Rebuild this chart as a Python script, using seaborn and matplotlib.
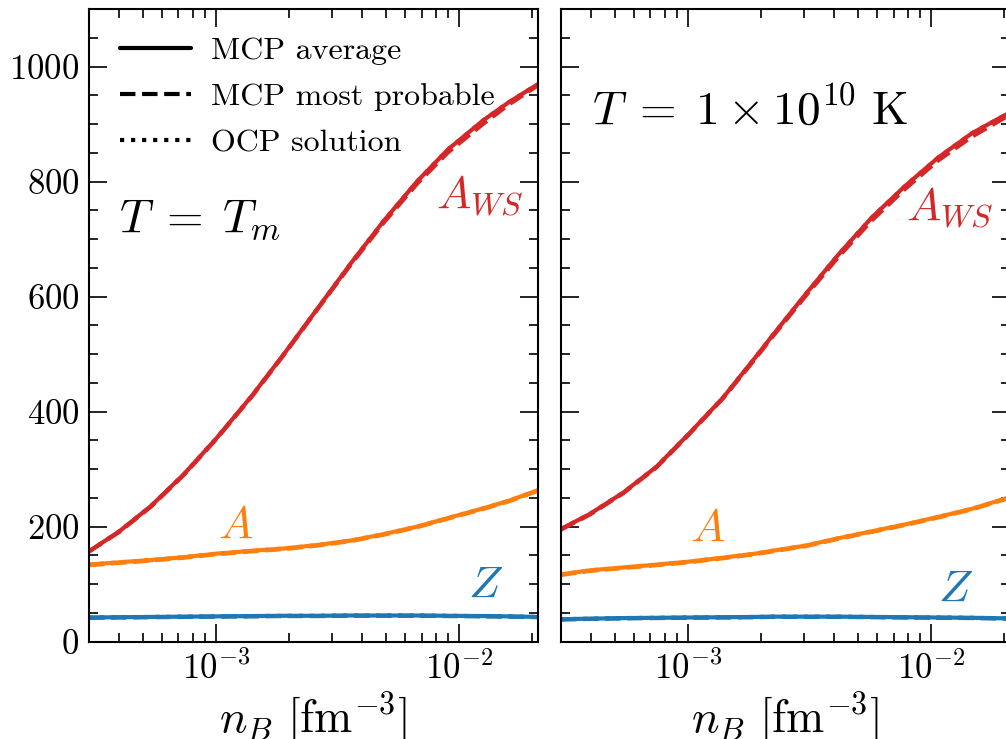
import numpy as np
import pandas as pd
import matplotlib
matplotlib.use("Agg")
import matplotlib.pyplot as plt
from matplotlib.lines import Line2D
import matplotlib.ticker as mticker
import seaborn as sns

# ---------------- data ----------------
nB_left = [3.0e-4, 4.0e-4, 5.4e-4, 7.4e-4, 1.0e-3, 1.4e-3, 1.9e-3, 2.6e-3,
           3.6e-3, 4.9e-3, 6.7e-3, 9.0e-3, 1.26e-2, 1.6e-2, 2.1e-2]
Aws_left_avg = [157, 192, 236, 292, 353, 427, 500, 578, 659, 732, 800, 856, 907, 938, 969]
Aws_left_mp = [157, 191, 235, 291, 352, 426, 499, 577, 657, 729, 796, 851, 901, 934, 967]
Aws_left_ocp = [157, 192, 236, 292, 353, 427, 500, 578, 659, 732, 800, 856, 907, 938, 969]
A_left_avg = [134, 138, 142, 147, 153, 158, 162, 168, 176, 187, 200, 215, 232, 245, 263]
A_left_mp = [133, 137, 141, 146, 152, 157, 161, 167, 175, 186, 199, 214, 231, 244, 262]
A_left_ocp = [134, 138, 142, 147, 153, 158, 162, 168, 176, 187, 200, 215, 232, 245, 263]
Z_left_avg = [42, 42.5, 43, 43.5, 44, 44.5, 45, 45, 45.5, 45.5, 45.5, 45, 44.5, 44, 43]
Z_left_mp = [41.5, 42, 42.5, 43, 43.5, 44, 44.5, 44.5, 45, 45, 45, 44.5, 44, 43.5, 42.5]
Z_left_ocp = [42, 42.5, 43, 43.5, 44, 44.5, 45, 45, 45.5, 45.5, 45.5, 45, 44.5, 44, 43]

nB_right = [3.0e-4, 3.94e-4, 5.4e-4, 7.4e-4, 1.0e-3, 1.39e-3, 1.88e-3, 2.22e-3,
            3.04e-3, 4.17e-3, 5.71e-3, 7.84e-3, 1.07e-2, 1.47e-2, 2.1e-2]
Aws_right_avg = [196, 222, 259, 304, 360, 424, 493, 532, 604, 674, 738, 793, 842, 884, 920]
Aws_right_mp = [195, 221, 258, 303, 359, 423, 491, 530, 601, 670, 733, 788, 837, 878, 916]
Aws_right_ocp = [196, 222, 259, 304, 360, 424, 493, 532, 604, 674, 738, 793, 842, 884, 920]
A_right_avg = [117, 124, 129, 134, 139, 146, 153, 158, 167, 180, 192, 204, 217, 231, 251]
A_right_mp = [116, 123, 128, 133, 138, 145, 152, 157, 166, 179, 191, 203, 216, 230, 250]
A_right_ocp = [117, 124, 129, 134, 139, 146, 153, 158, 167, 180, 192, 204, 217, 231, 251]
Z_right_avg = [39, 40, 41, 41.5, 42, 42.5, 43, 43.5, 43.5, 43.5, 43, 42.5, 42, 41.5, 40.5]
Z_right_mp = [38.5, 39.5, 40.5, 41, 41.5, 42, 42.5, 43, 43, 43, 42.5, 42, 41.5, 41, 40]
Z_right_ocp = [39, 40, 41, 41.5, 42, 42.5, 43, 43.5, 43.5, 43.5, 43, 42.5, 42, 41.5, 40.5]

legend_labels = ["MCP average", "MCP most probable", "OCP solution"]
panel_titles = [r"$T\;=\;T_m$", r"$T\;=\;1\times10^{10}\ \mathrm{K}$"]
xlim = (3.0e-4, 2.1e-2)
ylim = (0, 1100)

# ---------------- style ----------------
sns.set_style("ticks")
plt.rcParams["font.family"] = ["serif"]
plt.rcParams["font.serif"] = ["cmr10", "DejaVu Serif"]
plt.rcParams["mathtext.fontset"] = "cm"
plt.rcParams["axes.formatter.use_mathtext"] = True
plt.rcParams["axes.unicode_minus"] = True
for k in ("text.color", "axes.labelcolor", "xtick.color", "ytick.color", "axes.edgecolor"):
    plt.rcParams[k] = "black"

RED, ORANGE, BLUE = "#d62728", "#ff7f0e", "#1f77b4"
LW = 3.0
STYLES = {"avg": "-", "mp": "--", "ocp": ":"}

fig = plt.figure(figsize=(10.06, 7.39), dpi=100)
ax1 = fig.add_axes([0.0885, 0.1317, 0.4458, 0.856])
ax2 = fig.add_axes([0.5577, 0.1317, 0.4458, 0.856])

panels = [
    (ax1, nB_left, [(Aws_left_avg, Aws_left_mp, Aws_left_ocp, RED),
                    (A_left_avg, A_left_mp, A_left_ocp, ORANGE),
                    (Z_left_avg, Z_left_mp, Z_left_ocp, BLUE)]),
    (ax2, nB_right, [(Aws_right_avg, Aws_right_mp, Aws_right_ocp, RED),
                     (A_right_avg, A_right_mp, A_right_ocp, ORANGE),
                     (Z_right_avg, Z_right_mp, Z_right_ocp, BLUE)]),
]

for ax, xs, series in panels:
    for avg, mp, ocp, col in series:
        for key, ys in (("ocp", ocp), ("mp", mp), ("avg", avg)):
            df = pd.DataFrame({"nB": xs, "val": ys})
            sns.lineplot(data=df, x="nB", y="val", ax=ax, color=col,
                         linestyle=STYLES[key], lw=LW, estimator=None, sort=False)
    ax.set_xscale("log")
    ax.set_xlim(*xlim)
    ax.set_ylim(*ylim)
    ax.yaxis.set_major_locator(mticker.MultipleLocator(200))
    ax.yaxis.set_minor_locator(mticker.MultipleLocator(50))
    ax.xaxis.set_major_locator(mticker.LogLocator(base=10))
    ax.xaxis.set_minor_locator(mticker.LogLocator(base=10, subs=np.arange(2, 10)))
    ax.xaxis.set_minor_formatter(mticker.NullFormatter())
    ax.tick_params(which="both", direction="in", top=True, right=True,
                   labelsize=25, width=1.2, pad=7)
    ax.tick_params(which="major", length=13)
    ax.tick_params(which="minor", length=6.5)
    for s in ax.spines.values():
        s.set_linewidth(1.5)
    ax.set_xlabel(r"$n_B\ [\mathrm{fm}^{-3}]$", fontsize=33, labelpad=3)
    ax.set_ylabel("")

ax2.tick_params(labelleft=False)

# panel annotations
ax1.text(0.067, 0.6475, panel_titles[0], transform=ax1.transAxes, fontsize=34,
         va="baseline", ha="left")
ax2.text(0.069, 0.818, panel_titles[1], transform=ax2.transAxes, fontsize=34,
         va="baseline", ha="left")
for ax, pos in ((ax1, [(0.774, 0.685), (0.288, 0.164), (0.845, 0.069)]),
                (ax2, [(0.770, 0.665), (0.288, 0.159), (0.841, 0.063)])):
    for (tx, ty), lab, col in zip(pos, [r"$A_{WS}$", r"$A$", r"$Z$"], [RED, ORANGE, BLUE]):
        ax.text(tx, ty, lab, transform=ax.transAxes, fontsize=33, color=col,
                va="baseline", ha="left")

handles = [Line2D([], [], color="black", lw=3.0, linestyle=STYLES[k]) for k in ("avg", "mp", "ocp")]
ax1.legend(handles, legend_labels, loc="upper left", bbox_to_anchor=(0.02, 0.992),
           frameon=False, fontsize=23, handlelength=2.2, handletextpad=0.65,
           labelspacing=0.56, borderaxespad=0.3)

fig.savefig("out.png", dpi=100)
